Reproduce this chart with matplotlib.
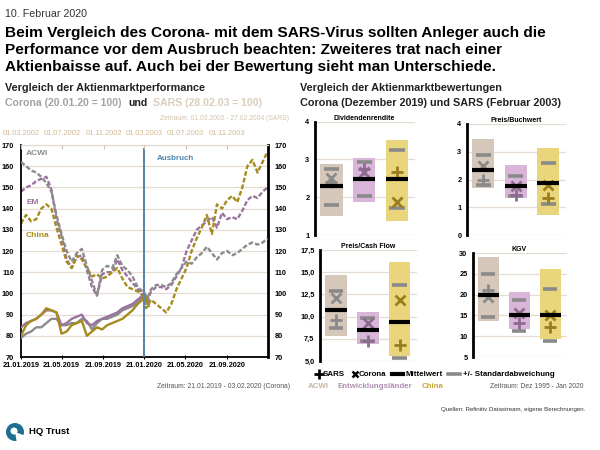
import matplotlib.pyplot as plt
import matplotlib.patches as mpatches
import numpy as np

plt.rcParams['font.family'] = ['Liberation Sans Narrow', 'Liberation Sans', 'DejaVu Sans']

# colours
c_acwi = '#8c8c8c'
c_em = '#9a73a0'
c_china = '#a68b1e'
c_grid = '#e4dcd1'
c_blue = '#5a86a8'

# ---- left chart: performance (days relative to outbreak) ----
sars_days = [-365, -350, -335, -320, -305, -290, -275, -260, -245, -230,
             -215, -200, -185, -170, -155, -140, -125, -110, -95, -80,
             -65, -50, -35, -20, -5, 5, 20, 35, 50, 65,
             80, 95, 110, 125, 140, 155, 170, 185, 200, 215,
             230, 245, 260, 275, 290, 305, 320, 335, 350, 365]
sars_acwi = [162, 160, 158, 157, 155, 152, 148, 137, 128, 120,
             115, 119, 121, 113, 106, 99, 111, 113, 112, 118,
             113, 111, 108, 103, 101, 96, 102, 104, 104, 103,
             105, 109, 112, 115, 114, 117, 119, 122, 119, 116,
             119, 120, 118, 119, 121, 123, 124, 123, 124, 126]
sars_em = [148, 150, 151, 153, 154, 155, 149, 135, 127, 116,
           112, 117, 118, 111, 103, 99, 109, 110, 110, 116,
           111, 108, 105, 102, 100, 95, 101, 103, 103, 102,
           104, 108, 112, 120, 125, 130, 132, 134, 136, 131,
           138, 135, 136, 135, 139, 144, 146, 145, 148, 150]
sars_china = [133, 137, 134, 135, 140, 142, 140, 131, 123, 115,
              112, 118, 116, 112, 108, 109, 107, 108, 110, 112,
              107, 103, 102, 101, 99, 93, 97, 95, 93, 91,
              95, 102, 107, 112, 120, 126, 131, 137, 128, 142,
              140, 144, 146, 143, 150, 160, 163, 157, 162, 167]

corona_days = [-365, -350, -335, -320, -305, -290, -275, -260, -245, -230,
               -215, -200, -185, -170, -155, -140, -125, -110, -95, -80,
               -65, -50, -35, -20, -5, 0, 13]
corona_acwi = [79, 81, 82, 84, 84, 86, 88, 88, 85, 85,
               86, 86, 88, 87, 83, 86, 88, 88, 89, 90,
               92, 93, 94, 96, 98, 100, 97]
corona_em = [84, 86, 87, 88, 90, 92, 92, 91, 85, 86,
             88, 89, 90, 86, 85, 87, 88, 89, 90, 91,
             93, 94, 95, 97, 99, 100, 95]
corona_china = [80, 85, 87, 88, 90, 93, 92, 91, 81, 82,
                85, 86, 87, 80, 82, 84, 83, 85, 86, 87,
                88, 90, 92, 95, 97, 100, 94]

bottom_dates = ['2019-01-21', '2019-05-21', '2019-09-21', '2020-01-21', '2020-05-21', '2020-09-21']
top_dates = ['2002-03-01', '2002-07-01', '2002-11-01', '2003-03-01', '2003-07-01', '2003-11-01']

# ---- right: valuation boxes ----
groups = ['ACWI', 'Entwicklungsländer', 'China']
box_face = ['#d5c7b9', '#d9b6d9', '#e9d67c']
mark_col = ['#8a8a8a', '#8d6b91', '#9a7d1c']

div_lo = [1.51, 1.88, 1.38]
div_hi = [2.87, 3.04, 3.51]
div_sd_lo = [1.79, 2.03, 1.72]
div_sd_hi = [2.74, 2.94, 3.24]
div_mean = [2.29, 2.49, 2.49]
div_sars = [2.40, 2.75, 2.67]
div_corona = [2.50, 2.68, 1.87]

pb_lo = [1.68, 1.35, 0.71]
pb_hi = [3.45, 2.51, 3.13]
pb_sd_lo = [1.81, 1.40, 1.13]
pb_sd_hi = [2.88, 2.11, 2.60]
pb_mean = [2.36, 1.76, 1.86]
pb_sars = [2.00, 1.45, 1.32]
pb_corona = [2.50, 1.75, 1.79]

pcf_lo = [7.86, 6.88, 5.56]
pcf_hi = [14.70, 10.53, 16.17]
pcf_sd_lo = [8.76, 7.26, 5.38]
pcf_sd_hi = [12.86, 9.81, 13.53]
pcf_mean = [10.75, 8.50, 9.44]
pcf_sars = [9.62, 7.20, 6.80]
pcf_corona = [12.07, 9.25, 11.88]

kgv_lo = [13.65, 11.67, 9.44]
kgv_hi = [28.97, 20.63, 26.20]
kgv_sd_lo = [14.68, 11.27, 8.73]
kgv_sd_hi = [24.84, 18.65, 21.27]
kgv_mean = [19.84, 15.08, 15.08]
kgv_sars = [21.0, 13.1, 12.3]
kgv_corona = [19.4, 15.5, 15.1]

TICK = 5.3
SANS = ['Liberation Sans']


def fx(x):
    return x / 600


def fy(y):
    return 1 - y / 450


def days_from(dates, ref):
    return [int((np.datetime64(d) - np.datetime64(ref)).astype(int)) for d in dates]


def fmt_date(d):
    y, m, dd = d.split('-')
    return f'{dd}.{m}.{y}'


fig = plt.figure(figsize=(6, 4.5), dpi=100)

# ---- header ----
fig.text(fx(5), fy(14), '10. Februar 2020', fontsize=7.7, color='#333333',
         va='center', family=SANS)
title = ['Beim Vergleich des Corona- mit dem SARS-Virus sollten Anleger auch die',
         'Performance vor dem Ausbruch beachten: Zweiteres trat nach einer',
         'Aktienbaisse auf. Auch bei der Bewertung sieht man Unterschiede.']
for i, line in enumerate(title):
    fig.text(fx(5), fy(33 + 17 * i), line, fontsize=11.1, fontweight='bold',
             va='center', family=SANS)

fig.text(fx(5), fy(88), 'Vergleich der Aktienmarktperformance', fontsize=7.8,
         fontweight='bold', va='center', family=SANS, color='#222222')
fig.text(fx(5), fy(103), 'Corona (20.01.20 = 100)', fontsize=7.6, fontweight='bold',
         va='center', family=SANS, color='#a3a3a3')
fig.text(fx(128), fy(103), 'und', fontsize=7.6, fontweight='bold',
         va='center', family=SANS, color='#222222')
fig.text(fx(153), fy(103), 'SARS (28.02.03 = 100)', fontsize=7.6, fontweight='bold',
         va='center', family=SANS, color='#dacdbb')
fig.text(fx(300), fy(88), 'Vergleich der Aktienmarktbewertungen', fontsize=7.8,
         fontweight='bold', va='center', family=SANS, color='#222222')
fig.text(fx(300), fy(103), 'Corona (Dezember 2019) und SARS (Februar 2003)', fontsize=7.8,
         fontweight='bold', va='center', family=SANS, color='#222222')

# ---- left chart ----
ax = fig.add_axes([fx(21), fy(357), 247 / 600, 212 / 450])
xmin = days_from(['2019-01-21'], '2020-01-21')[0]
xmax = days_from(['2021-01-21'], '2020-01-21')[0]
ax.set_xlim(xmin, xmax)
ax.set_ylim(70, 170)
ax.set_yticks(range(70, 171, 10))
for v in range(80, 171, 10):
    ax.axhline(v, color=c_grid, lw=0.9, zorder=0)

dash = (0, (2, 0.9))
ax.plot(sars_days, sars_em, color=c_em, lw=1.7, ls=dash, zorder=2)
ax.plot(sars_days, sars_china, color=c_china, lw=1.7, ls=dash, zorder=2)
ax.plot(sars_days, sars_acwi, color=c_acwi, lw=1.7, ls=dash, zorder=3)
ax.plot(corona_days, corona_acwi, color=c_acwi, lw=1.7, zorder=3)
ax.plot(corona_days, corona_em, color=c_em, lw=1.7, zorder=3)
ax.plot(corona_days, corona_china, color=c_china, lw=1.7, zorder=4)

ax.vlines(0, 70, 168.8, color=c_blue, lw=1.5, zorder=5)
ax.text(37, 163.5, 'Ausbruch', color='#4f84ad', fontsize=5.8, fontweight='bold',
        va='center', family=SANS)
ax.text(-350, 166, 'ACWI', color=c_acwi, fontsize=6, fontweight='bold', va='center',
        family=SANS)
ax.text(-350, 143, 'EM', color=c_em, fontsize=6, fontweight='bold', va='center',
        family=SANS)
ax.text(-350, 127.5, 'China', color=c_china, fontsize=6, fontweight='bold', va='center',
        family=SANS)

ax.set_xticks(days_from(bottom_dates, '2020-01-21'))
ax.set_xticklabels([fmt_date(d) for d in bottom_dates])
ax.tick_params(axis='x', direction='inout', length=3, width=0.8, labelsize=TICK, pad=2)
ax.tick_params(axis='y', length=0, labelsize=TICK, pad=5, labelright=True)
for lab in ax.get_xticklabels() + ax.get_yticklabels():
    lab.set_fontweight('bold')
for lab in ax.yaxis.get_ticklabels(which='major'):
    lab.set_fontweight('bold')
for s in ['left', 'bottom']:
    ax.spines[s].set_linewidth(1.3)
ax.spines['right'].set_linewidth(2)
ax.spines['top'].set_color(c_grid)
ax.spines['top'].set_linewidth(0.9)

top = ax.twiny()
top.set_xlim(xmin, xmax)
top.set_xticks(days_from(top_dates, '2003-03-01'))
top.set_xticklabels([fmt_date(d) for d in top_dates])
top.tick_params(axis='x', direction='in', length=3, width=0.8, color='#cfc3b2',
                labelsize=TICK, labelcolor='#d2b993', pad=6)
for s in top.spines.values():
    s.set_visible(False)

fig.text(fx(289), fy(119), 'Zeitraum: 01.03.2002 - 27.02.2004 (SARS)', fontsize=4.9,
         color='#d3c3ab', ha='right', va='center')
fig.text(fx(290), fy(387), 'Zeitraum: 21.01.2019 - 03.02.2020 (Corona)', fontsize=4.9,
         color='#555555', ha='right', va='center')

# ---- right boxes ----
panels = [
    ('Dividendenrendite', [fx(315), fy(235), 100 / 600, 113.3 / 450], (1, 4), [1, 2, 3, 4],
     ['1', '2', '3', '4'], div_lo, div_hi, div_sd_lo, div_sd_hi, div_mean, div_sars, div_corona),
    ('Preis/Buchwert', [fx(467), fy(235), 99 / 600, 111 / 450], (0, 4), [0, 1, 2, 3, 4],
     ['0', '1', '2', '3', '4'], pb_lo, pb_hi, pb_sd_lo, pb_sd_hi, pb_mean, pb_sars, pb_corona),
    ('Preis/Cash Flow', [fx(320), fy(361), 97 / 600, 111 / 450], (5, 17.5),
     [5, 7.5, 10, 12.5, 15, 17.5], ['5,0', '7,5', '10,0', '12,5', '15,0', '17,5'],
     pcf_lo, pcf_hi, pcf_sd_lo, pcf_sd_hi, pcf_mean, pcf_sars, pcf_corona),
    ('KGV', [fx(473), fy(357), 94 / 600, 104 / 450], (5, 30), [5, 10, 15, 20, 25, 30],
     ['5', '10', '15', '20', '25', '30'], kgv_lo, kgv_hi, kgv_sd_lo, kgv_sd_hi,
     kgv_mean, kgv_sars, kgv_corona),
]

for (name, rect, ylim, ticks, labels, lo, hi, sdl, sdh, mean, sars, cor) in panels:
    bx = fig.add_axes(rect)
    bx.set_xlim(-0.5, 2.55)
    bx.set_ylim(*ylim)
    for t in ticks:
        bx.axhline(t, color=c_grid, lw=0.9, zorder=0)
    for i in range(3):
        bx.add_patch(mpatches.Rectangle((i - 0.34, lo[i]), 0.68, hi[i] - lo[i],
                                        facecolor=box_face[i], edgecolor='none', zorder=1))
        bx.hlines([sdl[i], sdh[i]], i - 0.23, i + 0.23, color='#8a8a8a', lw=2.6, zorder=2)
        bx.plot(i, sars[i], marker='+', ms=9, mew=2, color=mark_col[i], zorder=3)
        bx.plot(i, cor[i], marker='x', ms=7, mew=2, color=mark_col[i], zorder=3)
        bx.hlines(mean[i], i - 0.34, i + 0.34, color='black', lw=3, zorder=4)
    bx.set_yticks(ticks)
    bx.set_yticklabels(labels)
    bx.set_xticks([])
    bx.tick_params(axis='y', length=0, labelsize=TICK, pad=4)
    for lab in bx.get_yticklabels():
        lab.set_fontweight('bold')
    for s in ['top', 'right', 'bottom']:
        bx.spines[s].set_visible(False)
    bx.spines['left'].set_linewidth(2)
    bx.text(1, ylim[1], name, ha='center', va='bottom', fontsize=5, fontweight='bold')

# ---- overlay for legend and footer ----
ov = fig.add_axes([0, 0, 1, 1])
ov.set_xlim(0, 600)
ov.set_ylim(450, 0)
ov.axis('off')
LEG = 5.7
ov.plot(319, 374, marker='+', ms=7, mew=2, color='black')
ov.text(323, 374, 'SARS', fontsize=LEG, fontweight='bold', va='center')
ov.plot(355, 374, marker='x', ms=5, mew=1.8, color='black')
ov.text(359, 374, 'Corona', fontsize=LEG, fontweight='bold', va='center')
ov.plot([392, 403], [374, 374], color='black', lw=3)
ov.text(405, 374, 'Mittelwert', fontsize=LEG, fontweight='bold', va='center')
ov.plot([448, 460], [374, 374], color='#8a8a8a', lw=2.6)
ov.text(463, 374, '+/- Standardabweichung', fontsize=LEG, fontweight='bold', va='center')
ov.text(308, 387, 'ACWI', fontsize=LEG, fontweight='bold', va='center', color='#c4b4a2')
ov.text(338, 387, 'Entwicklungsländer', fontsize=LEG, fontweight='bold', va='center',
        color='#b08db3')
ov.text(422, 387, 'China', fontsize=LEG, fontweight='bold', va='center', color='#c9a83a')
ov.text(583, 387, 'Zeitraum: Dez 1995 - Jan 2020', fontsize=4.9, ha='right', va='center',
        color='#555555')
ov.text(585, 410, 'Quellen: Refinitiv Datastream, eigene Berechnungen.', fontsize=4.4,
        ha='right', va='center', color='#333333')

# logo
ov.add_patch(mpatches.Circle((15, 432), 9, facecolor='#1c6f8f', edgecolor='none'))
ov.add_patch(mpatches.Wedge((15, 432), 9.5, 20, 80, facecolor='white', edgecolor='none'))
ov.add_patch(mpatches.Circle((14, 431), 3.5, facecolor='white', edgecolor='none'))
ov.text(29, 432, 'HQ Trust', fontsize=6.8, fontweight='bold', va='center',
        family=SANS)

fig.savefig('out.png', dpi=100)
